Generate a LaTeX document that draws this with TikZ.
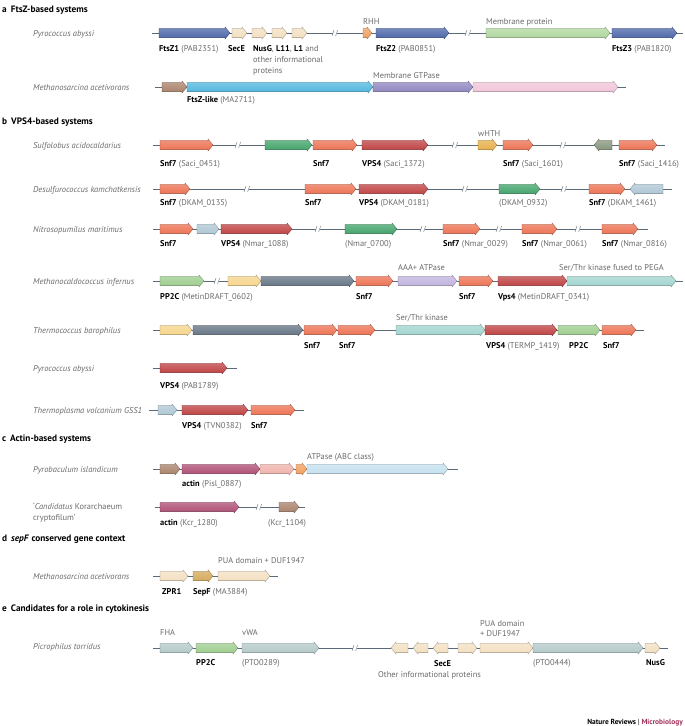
\documentclass[tikz,border=0pt]{standalone}
\usepackage{fontspec}
\setmainfont{PT Sans}
\definecolor{txtgray}{HTML}{6A6A6A}
\definecolor{linecol}{HTML}{5A6A78}
\definecolor{ftsz}{HTML}{4A64A8}
\definecolor{beige}{HTML}{F2DFC0}
\definecolor{rhh}{HTML}{F29E5C}
\definecolor{memgreen}{HTML}{AED69C}
\definecolor{brownc}{HTML}{A88068}
\definecolor{cyanc}{HTML}{4EB6DE}
\definecolor{purplec}{HTML}{8E84C0}
\definecolor{pinkc}{HTML}{F0C4D8}
\definecolor{snf}{HTML}{EC7050}
\definecolor{vps}{HTML}{BE3E40}
\definecolor{dgreen}{HTML}{3FA268}
\definecolor{whth}{HTML}{E6AE48}
\definecolor{olive}{HTML}{84937A}
\definecolor{bluegray}{HTML}{AEC6D4}
\definecolor{pptwo}{HTML}{9CCC8C}
\definecolor{yellowc}{HTML}{F6D48A}
\definecolor{slate}{HTML}{627282}
\definecolor{aaa}{HTML}{C0B2DC}
\definecolor{teal}{HTML}{A0D4CE}
\definecolor{actin}{HTML}{AE4C72}
\definecolor{lpink}{HTML}{F0B2AA}
\definecolor{atpase}{HTML}{C4E0F0}
\definecolor{sepf}{HTML}{D4A858}
\definecolor{grayc}{HTML}{B2C8C8}
\definecolor{micro}{HTML}{A0305A}
\tikzset{
  lbl/.style={anchor=base west, inner sep=0pt, font=\fontsize{8.4}{10}\selectfont, text=txtgray},
  spc/.style={anchor=base west, inner sep=0pt, font=\fontsize{8.5}{10}\selectfont\itshape, text=txtgray},
  sec/.style={anchor=base west, inner sep=0pt, font=\fontsize{9.3}{11}\selectfont\bfseries, text=black},
  backbone/.style={draw=linecol, line width=0.8pt},
  genebox/.style={draw=#1!65!black, line width=0.3pt, top color=#1!72!white, bottom color=#1},
  brkline/.style={draw=linecol!80, line width=0.5pt},
}
\newcommand{\gname}[1]{{\color{black}\bfseries #1}}
% right-pointing gene: x1, x2 (tip), y, colour
\newcommand{\gr}[4]{\path[genebox=#4] (#1,#3-4.6) -- (#2-5,#3-4.6) -- (#2-5,#3-6) -- (#2,#3) -- (#2-5,#3+6) -- (#2-5,#3+4.6) -- (#1,#3+4.6) -- cycle;}
% left-pointing gene: x1 (tip), x2, y, colour
\newcommand{\gl}[4]{\path[genebox=#4] (#2,#3-4.6) -- (#1+5,#3-4.6) -- (#1+5,#3-6) -- (#1,#3) -- (#1+5,#3+6) -- (#1+5,#3+4.6) -- (#2,#3+4.6) -- cycle;}
% break mark
\newcommand{\brk}[2]{\fill[white] (#1-2.2,#2-1.5) rectangle (#1+2.2,#2+1.5);
  \path[brkline] (#1-3,#2+3) -- (#1-1,#2-3) (#1+0.6,#2+3) -- (#1+2.6,#2-3);}
\begin{document}
\begin{tikzpicture}[x=1pt,y=-1pt]
\useasboundingbox (0,0) rectangle (685,726);

% ---------------- a ----------------
\node[sec] (ta) at (2,12) {a\hspace{4pt}FtsZ-based systems};
\node[spc] (sa1) at (33,36) {Pyrococcus abyssi};
\draw[backbone] (152,33) -- (683,33);
\gr{159}{230}{33}{ftsz}
\gr{232}{247}{33}{beige}
\gr{252}{267}{33}{beige}
\gr{272}{287}{33}{beige}
\gr{292}{307}{33}{beige}
\brk{335}{33}
\gr{363}{372}{33}{rhh}
\gr{376}{449}{33}{ftsz}
\brk{468}{33}
\gr{486}{610}{33}{memgreen}
\gr{612}{677}{33}{ftsz}
\node[lbl] (la1) at (159,51) {\gname{FtsZ1} (PAB2351)};
\node[lbl] (la2) at (228,51) {\gname{SecE}};
\node[lbl] (la3) at (253,51) {\gname{NusG}, \gname{L11}, \gname{L1} and};
\node[lbl] (la4) at (253,62) {other informational};
\node[lbl] (la5) at (253,73) {proteins};
\node[lbl] (la6) at (363,24) {RHH};
\node[lbl] (la7) at (376,51) {\gname{FtsZ2} (PAB0851)};
\node[lbl] (la8) at (486,24) {Membrane protein};
\node[lbl] (la9) at (612,51) {\gname{FtsZ3} (PAB1820)};

\node[spc] (sa2) at (33,90) {Methanosarcina acetivorans};
\draw[backbone] (155,87) -- (626,87);
\gr{162}{187}{87}{brownc}
\gr{187}{373}{87}{cyanc}
\gr{373}{473}{87}{purplec}
\gr{473}{618}{87}{pinkc}
\node[lbl] (la10) at (187,102) {\gname{FtsZ-like} (MA2711)};
\node[lbl] (la11) at (373,78) {Membrane GTPase};

% ---------------- b ----------------
\node[sec] (tb) at (2,124) {b\hspace{4pt}VPS4-based systems};
\node[spc] (sb1) at (33,148) {Sulfolobus acidocaldarius};
\draw[backbone] (153,145) -- (665,145);
\gr{160}{213}{145}{snf}
\brk{238}{145}
\gr{265}{312}{145}{dgreen}
\gr{313}{357}{145}{snf}
\gr{362}{428}{145}{vps}
\brk{455}{145}
\gr{478}{497}{145}{whth}
\gr{503}{533}{145}{snf}
\brk{563}{145}
\gl{594}{612}{145}{olive}
\gr{619}{657}{145}{snf}
\node[lbl] (lb1) at (160,166) {\gname{Snf7} (Saci\_0451)};
\node[lbl] (lb2) at (313,166) {\gname{Snf7}};
\node[lbl] (lb3) at (362,166) {\gname{VPS4} (Saci\_1372)};
\node[lbl] (lb4) at (478,136) {wHTH};
\node[lbl] (lb5) at (503,166) {\gname{Snf7} (Saci\_1601)};
\node[lbl] (lb6) at (619,166) {\gname{Snf7} (Saci\_1416)};

\node[spc] (sb2) at (33,192) {Desulfurococcus kamchatkensis};
\draw[backbone] (153,189) -- (672,189);
\gr{160}{190}{189}{snf}
\brk{247}{189}
\gr{305}{356}{189}{snf}
\gr{359}{428}{189}{vps}
\brk{465}{189}
\gr{499}{540}{189}{dgreen}
\brk{564}{189}
\gr{589}{625}{189}{snf}
\gl{630}{663}{189}{bluegray}
\node[lbl] (lb7) at (160,205) {\gname{Snf7} (DKAM\_0135)};
\node[lbl] (lb8) at (305,205) {\gname{Snf7}};
\node[lbl] (lb9) at (359,205) {\gname{VPS4} (DKAM\_0181)};
\node[lbl] (lb10) at (499,205) {(DKAM\_0932)};
\node[lbl] (lb11) at (589,205) {\gname{Snf7} (DKAM\_1461)};

\node[spc] (sb3) at (33,232) {Nitrosopumilus maritimus};
\draw[backbone] (153,229) -- (648,229);
\gr{160}{193}{229}{snf}
\gr{197}{219}{229}{bluegray}
\gr{221}{292}{229}{vps}
\brk{318}{229}
\gr{345}{397}{229}{dgreen}
\brk{423}{229}
\gr{443}{480}{229}{snf}
\brk{499}{229}
\gr{522}{557}{229}{snf}
\brk{578}{229}
\gr{602}{638}{229}{snf}
\node[lbl] (lb12) at (160,246) {\gname{Snf7}};
\node[lbl] (lb13) at (221,246) {\gname{VPS4} (Nmar\_1088)};
\node[lbl] (lb14) at (345,246) {(Nmar\_0700)};
\node[lbl] (lb15) at (443,246) {\gname{Snf7} (Nmar\_0029)};
\node[lbl] (lb16) at (522,246) {\gname{Snf7} (Nmar\_0061)};
\node[lbl] (lb17) at (602,246) {\gname{Snf7} (Nmar\_0816)};

\node[spc] (sb4) at (33,284) {Methanocaldococcus infernus};
\draw[backbone] (153,281) -- (683,281);
\gr{160}{204}{281}{pptwo}
\brk{217}{281}
\gr{228}{261}{281}{yellowc}
\gr{261}{354}{281}{slate}
\gr{356}{393}{281}{snf}
\gr{398}{457}{281}{aaa}
\gr{459}{493}{281}{snf}
\gr{498}{567}{281}{vps}
\gr{567}{676}{281}{teal}
\node[lbl] (lb18) at (160,299) {\gname{PP2C} (MetinDRAFT\_0602)};
\node[lbl] (lb19) at (356,299) {\gname{Snf7}};
\node[lbl] (lb20) at (398,270) {AAA+ ATPase};
\node[lbl] (lb21) at (459,299) {\gname{Snf7}};
\node[lbl] (lb22) at (498,299) {\gname{Vps4} (MetinDRAFT\_0341)};
\node[lbl] (lb23) at (559,270) {Ser/Thr kinase fused to PEGA};

\node[spc] (sb5) at (33,333) {Thermococcus barophilus};
\draw[backbone] (153,330) -- (644,330);
\gr{160}{192}{330}{yellowc}
\gr{193}{303}{330}{slate}
\gr{304}{337}{330}{snf}
\gr{338}{375}{330}{snf}
\gr{396}{485}{330}{teal}
\gr{485}{557}{330}{vps}
\gr{558}{600}{330}{pptwo}
\gr{602}{636}{330}{snf}
\node[lbl] (lb24) at (304,348) {\gname{Snf7}};
\node[lbl] (lb25) at (339,348) {\gname{Snf7}};
\node[lbl] (lb26) at (396,320) {Ser/Thr kinase};
\node[lbl] (lb27) at (486,348) {\gname{VPS4} (TERMP\_1419)};
\node[lbl] (lb28) at (569,348) {\gname{PP2C}};
\node[lbl] (lb29) at (603,348) {\gname{Snf7}};

\node[spc] (sb6) at (33,371) {Pyrococcus abyssi};
\draw[backbone] (153,368) -- (237,368);
\gr{160}{227}{368}{vps}
\node[lbl] (lb30) at (160,388) {\gname{VPS4} (PAB1789)};

\node[spc] (sb7) at (33,413) {Thermoplasma volcanium GSS1};
\draw[backbone] (149,410) -- (304,410);
\gr{158}{177}{410}{bluegray}
\gr{182}{248}{410}{vps}
\gr{251}{295}{410}{snf}
\node[lbl] (lb31) at (182,428) {\gname{VPS4} (TVN0382)};
\node[lbl] (lb32) at (251,428) {\gname{Snf7}};

% ---------------- c ----------------
\node[sec] (tc) at (2,441) {c\hspace{4pt}Actin-based systems};
\node[spc] (sc1) at (33,472) {Pyrobaculum islandicum};
\draw[backbone] (153,469) -- (458,469);
\gr{160}{180}{469}{brownc}
\gr{182}{260}{469}{actin}
\gr{260}{294}{469}{lpink}
\gr{296}{307}{469}{rhh}
\gr{307}{448}{469}{atpase}
\node[lbl] (lc1) at (182,486) {\gname{actin} (Pisl\_0887)};
\node[lbl] (lc2) at (307,459) {ATPase (ABC class)};

\node[lbl] (sc2) at (33,509) {‘\textit{Candidatus} Korarchaeum};
\node[lbl] (sc3) at (33,520) {cryptofilum’};
\draw[backbone] (155,507) -- (305,507);
\gr{160}{239}{507}{actin}
\brk{259}{507}
\gr{279}{299}{507}{brownc}
\node[lbl] (lc3) at (160,525) {\gname{actin} (Kcr\_1280)};
\node[lbl] (lc4) at (268,525) {(Kcr\_1104)};

% ---------------- d ----------------
\node[sec] (td) at (2,541) {d\hspace{4pt}\textit{sepF} conserved gene context};
\node[lbl] (ld1) at (218,563) {PUA domain + DUF1947};
\node[spc] (sd1) at (33,579) {Methanosarcina acetivorans};
\draw[backbone] (153,576) -- (278,576);
\gr{160}{188}{576}{beige}
\gr{193}{213}{576}{sepf}
\gr{218}{270}{576}{beige}
\node[lbl] (ld2) at (162,594) {\gname{ZPR1}};
\node[lbl] (ld3) at (193,594) {\gname{SepF} (MA3884)};

% ---------------- e ----------------
\node[sec] (te) at (2,611) {e\hspace{4pt}Candidates for a role in cytokinesis};
\node[spc] (se1) at (33,649) {Picrophilus torridus};
\draw[backbone] (153,648) -- (668,648);
\gr{160}{193}{648}{grayc}
\gr{196}{238}{648}{pptwo}
\gr{242}{319}{648}{grayc}
\brk{355}{648}
\gl{391}{408}{648}{beige}
\gl{413}{428}{648}{beige}
\gl{433}{448}{648}{beige}
\gr{458}{477}{648}{beige}
\gr{480}{533}{648}{beige}
\gr{533}{643}{648}{grayc}
\gr{645}{660}{648}{beige}
\node[lbl] (le1) at (160,635) {FHA};
\node[lbl] (le2) at (242,635) {vWA};
\node[lbl] (le3) at (196,665) {\gname{PP2C}};
\node[lbl] (le4) at (242,665) {(PTO0289)};
\node[lbl] (le5) at (434,666) {\gname{SecE}};
\node[lbl] (le6) at (378,677) {Other informational proteins};
\node[lbl] (le7) at (480,626) {PUA domain};
\node[lbl] (le8) at (480,636) {+ DUF1947};
\node[lbl] (le9) at (533,665) {(PTO0444)};
\node[lbl] (le10) at (646,665) {\gname{NusG}};

\node[anchor=base east, inner sep=0pt, font=\fontsize{7.4}{8}\selectfont\bfseries] (foot) at (683,724) {Nature Reviews {\color{txtgray}|} {\color{micro}Microbiology}};
\end{tikzpicture}
\end{document}
